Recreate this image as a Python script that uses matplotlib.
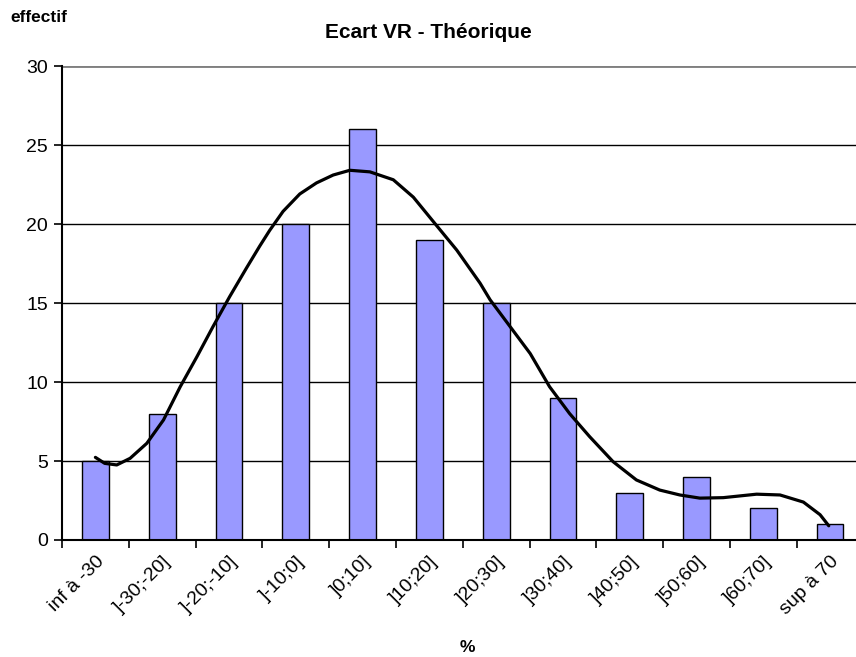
import matplotlib.pyplot as plt
import numpy as np

plt.rcParams['font.family'] = ['Liberation Sans', 'DejaVu Sans']

categories = ["inf à -30", "]-30;-20]", "]-20;-10]", "]-10;0]", "]0;10]", "]10;20]",
              "]20;30]", "]30;40]", "]40;50]", "]50;60]", "]60;70]", "sup à 70"]
effectif = [5, 8, 15, 20, 26, 19, 15, 9, 3, 4, 2, 1]

# smooth trend curve (category position, value)
curve_x = [0.0, 0.14, 0.32, 0.52, 0.77, 1.02, 1.27, 1.52, 1.76, 2.01, 2.26, 2.46, 2.61,
           2.81, 3.06, 3.31, 3.56, 3.81, 4.11, 4.46, 4.76, 5.06, 5.41, 5.76, 5.91,
           6.21, 6.51, 6.8, 7.1, 7.4, 7.75, 8.1, 8.45, 8.75, 9.05, 9.4, 9.9, 10.25,
           10.6, 10.85, 10.98]
curve_y = [5.23, 4.85, 4.75, 5.17, 6.12, 7.6, 9.7, 11.6, 13.5, 15.4, 17.2, 18.6, 19.6,
           20.8, 21.9, 22.6, 23.1, 23.4, 23.3, 22.8, 21.7, 20.15, 18.35, 16.25, 15.2,
           13.5, 11.8, 9.7, 8.0, 6.54, 4.96, 3.8, 3.16, 2.85, 2.65, 2.68, 2.9, 2.85,
           2.4, 1.6, 0.9]

fig = plt.figure(figsize=(8.56, 6.57), dpi=100)
ax = fig.add_axes([62/856, 117/657, 801.5/856, 474/657])

x = np.arange(len(categories))
ax.bar(x, effectif, width=0.4, color='#9999FF', edgecolor='black', linewidth=1, zorder=2)
ax.plot(curve_x, curve_y, color='black', linewidth=2.3, zorder=3,
        solid_joinstyle='round', solid_capstyle='round')

ax.set_xlim(-0.5, len(categories) - 0.5)
ax.set_ylim(0, 30)
ax.set_yticks(range(0, 31, 5))
ax.yaxis.grid(True, color='black', linewidth=1)
ax.set_axisbelow(True)

ax.set_xticks(x)
ax.set_xticklabels(categories, rotation=45, ha='right', rotation_mode='anchor', fontsize=14)
ax.tick_params(axis='x', which='major', length=0, pad=9)
ax.set_xticks(np.arange(-0.5, len(categories), 1), minor=True)
ax.tick_params(axis='x', which='minor', length=6, width=1.2, direction='out', color='black')
ax.tick_params(axis='y', length=6, width=1.2, labelsize=14, pad=4)

for s in ['top', 'right']:
    ax.spines[s].set_visible(False)
ax.axhline(30, color='#808080', linewidth=2, zorder=1)
ax.spines['left'].set_linewidth(1.5)
ax.spines['bottom'].set_linewidth(1.5)

fig.text(428/856, 1 - 33/657, "Ecart VR - Théorique", ha='center', va='center',
         fontsize=15, fontweight='bold')
fig.text(10/856, 1 - 17/657, "effectif", ha='left', va='center', fontsize=12.5,
         fontweight='bold')
fig.text(467/856, 1 - 647/657, "%", ha='center', va='center', fontsize=12.5,
         fontweight='bold')

fig.savefig('out.png', dpi=100)
